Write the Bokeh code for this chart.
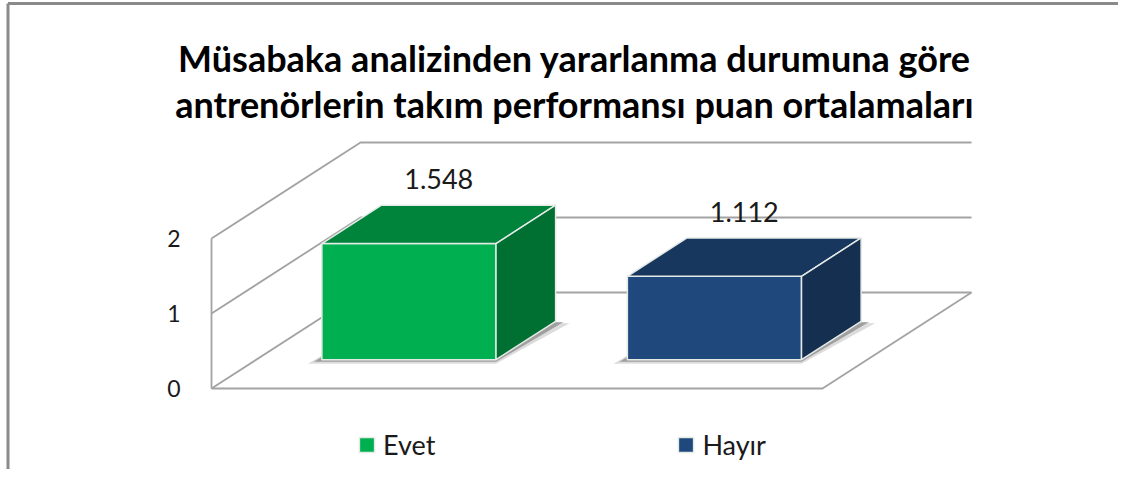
from bokeh.plotting import figure
from bokeh.models import Range1d, Legend, LegendItem, ColumnDataSource
from bokeh.core.properties import value
from bokeh.embed import file_html
from bokeh.resources import INLINE

# ---------------- data ----------------
title_lines = [
    "Müsabaka analizinden yararlanma durumuna göre",
    "antrenörlerin takım performansı puan ortalamaları",
]
categories = ["Evet", "Hayır"]
values = [1.548, 1.112]
value_labels = ["1.548", "1.112"]
y_ticks = [0, 1, 2]
front_colors = ["#00B050", "#1F497D"]
top_colors = ["#00843C", "#17375E"]
side_colors = ["#006F32", "#152F50"]

# ---------------- geometry (oblique 3D projection) ----------------
W, H = 1118, 469
PX_X = 305.5          # pixels per category unit
PX_Y = 75.0           # pixels per value unit
X_REF = 363.75        # canvas x of category 1 on the floor front edge
Y_REF = 388.0         # canvas y of value 0 on the floor front edge
x_start = 1 + (0 - X_REF) / PX_X
x_end = x_start + W / PX_X
y_start = (Y_REF - H) / PX_Y
y_end = y_start + H / PX_Y
DX = 149 / PX_X       # x shift for full depth
DY = 96 / PX_Y        # y shift for full depth
D0, D1 = 0.3, 0.7     # bar depth span
BW = 0.57             # bar width (category units)
X_LO, X_HI = 0.5, len(categories) + 0.5
TOP = max(y_ticks)

FONT = "Lato"

p = figure(width=W, height=H, x_range=Range1d(x_start, x_end), y_range=Range1d(y_start, y_end),
           x_axis_type=None, y_axis_type=None, toolbar_location=None, output_backend="svg",
           min_border=0, outline_line_color=None)
p.xgrid.visible = False
p.ygrid.visible = False
p.background_fill_color = "white"
p.border_fill_color = "white"

# chart frame border (left and top)
bx = x_start + 7.5 / PX_X
by = y_end - 3 / PX_Y
p.line([bx, bx], [y_start, by], line_color="#8A8A8A", line_width=3)
p.line([bx, x_end], [by, by], line_color="#8A8A8A", line_width=3)

# walls and gridlines
gx, gy = [], []
for t in y_ticks:
    gx.append([X_LO, X_LO + DX, X_HI + DX])
    gy.append([t, t + DY, t + DY])
gx.append([X_LO, X_HI, X_HI + DX])
gy.append([0, 0, DY])
gx.append([X_LO, X_LO])
gy.append([0, TOP])
p.multi_line(gx, gy, line_color="#A3A3A3", line_width=1.8)

# tick labels
p.text(x=[X_LO - 31 / PX_X] * len(y_ticks), y=y_ticks, text=[str(t) for t in y_ticks],
       text_align="right", text_baseline="middle", text_font=value(FONT),
       text_font_size="23px", text_color="#1A1A1A")

# bars
fx, fy, tx, ty, sx, sy, shx, shy, shx2, shy2 = [], [], [], [], [], [], [], [], [], []
for i, v in enumerate(values):
    xc = i + 1
    xl, xr = xc - BW / 2, xc + BW / 2
    a0x, a1x = D0 * DX, D1 * DX
    a0y, a1y = D0 * DY, D1 * DY
    fx.append([xl + a0x, xr + a0x, xr + a0x, xl + a0x])
    fy.append([a0y, a0y, v + a0y, v + a0y])
    tx.append([xl + a0x, xr + a0x, xr + a1x, xl + a1x])
    ty.append([v + a0y, v + a0y, v + a1y, v + a1y])
    sx.append([xr + a0x, xr + a1x, xr + a1x, xr + a0x])
    sy.append([a0y, a1y, v + a1y, v + a0y])
    e = 14 / PX_X
    d = 4 / PX_Y
    shx.append([xl + a0x - e, xr + a0x, xr + a1x + e, xl + a1x])
    shy.append([a0y - d, a0y - d, a1y - d * 0.5, a1y])
    e2 = 8 / PX_X
    shx2.append([xl + a0x - e2, xr + a0x, xr + a1x + e2, xl + a1x])
    shy2.append([a0y - d * 0.5, a0y - d * 0.5, a1y - d * 0.2, a1y])

p.patches(shx, shy, fill_color="#9A9A9A", fill_alpha=0.35, line_color=None)
p.patches(shx2, shy2, fill_color="#555555", fill_alpha=0.45, line_color=None)

src = ColumnDataSource(dict(xs=fx, ys=fy, color=front_colors, cat=categories))
front = p.patches("xs", "ys", source=src, fill_color="color", line_color="#E4EAE6", line_width=1.5)
p.patches(tx, ty, fill_color=top_colors, line_color="#E4EAE6", line_width=1.5)
p.patches(sx, sy, fill_color=side_colors, line_color="#E4EAE6", line_width=1.5)

# value labels
p.text(x=[i + 1 + (D0 + D1) / 2 * DX for i in range(len(values))],
       y=[v + D1 * DY + 26 / PX_Y for v in values], text=value_labels,
       text_align="center", text_baseline="middle", text_font=value(FONT),
       text_font_size="27px", text_color="#1A1A1A")

# title
title_center = 1 + (574 - X_REF) / PX_X
p.text(x=[title_center] * len(title_lines),
       y=[(Y_REF - 57) / PX_Y - k * 46 / PX_Y for k in range(len(title_lines))],
       text=title_lines, text_align="center", text_baseline="alphabetic",
       text_font=value(FONT), text_font_style="bold", text_font_size="36px", text_color="#000000")

# legend
legend = Legend(items=[LegendItem(label=c, renderers=[front], index=i) for i, c in enumerate(categories)],
                orientation="horizontal", location=(357, 8), spacing=241,
                glyph_width=19, glyph_height=19, label_standoff=7, padding=0, margin=0,
                border_line_color=None, background_fill_alpha=0,
                label_text_font=FONT, label_text_font_size="27px", label_text_color="#1A1A1A")
p.add_layout(legend)

open("out.html", "w").write(file_html(p, INLINE))
